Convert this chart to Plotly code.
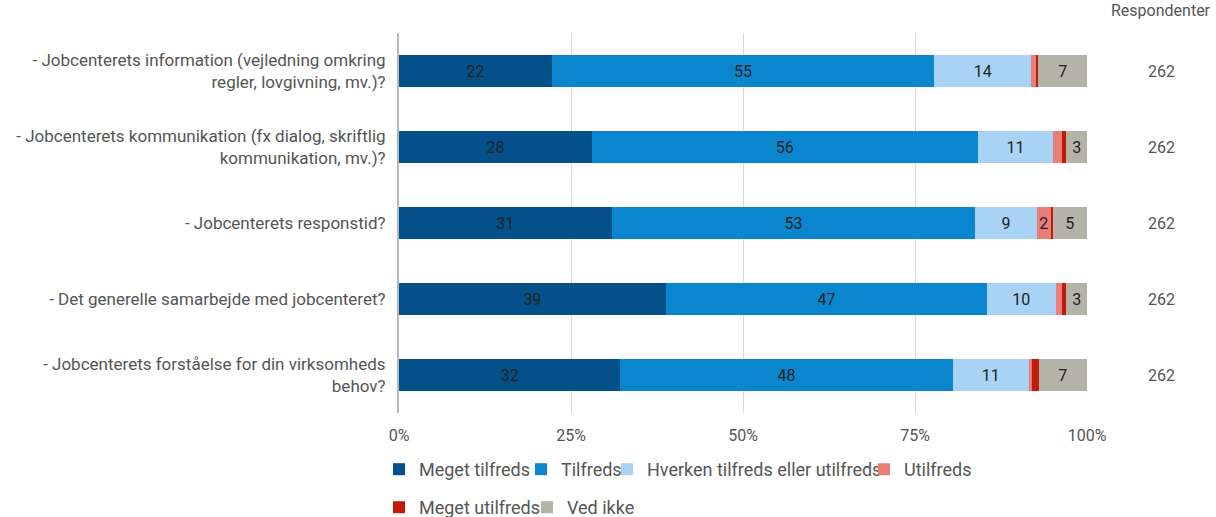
import plotly.graph_objects as go

# Survey questions (top to bottom)
questions = [
    "- Jobcenterets information (vejledning omkring<br>regler, lovgivning, mv.)?",
    "- Jobcenterets kommunikation (fx dialog, skriftlig<br>kommunikation, mv.)?",
    "- Jobcenterets responstid?",
    "- Det generelle samarbejde med jobcenteret?",
    "- Jobcenterets forståelse for din virksomheds<br>behov?",
]
respondents = [262, 262, 262, 262, 262]

# Answer shares (%) per question
meget_tilfreds = [22, 28, 31, 39, 32]
tilfreds = [55, 56, 53, 47, 48]
hverken = [14, 11, 9, 10, 11]
utilfreds = [0.6, 1.2, 2, 0.9, 0.4]
meget_utilfreds = [0.4, 0.7, 0.3, 0.7, 1.0]
ved_ikke = [7, 3, 5, 3, 7]

# name, values, colour, legend id, legend x (paper), legend y (paper)
series = [
    ("Meget tilfreds", meget_tilfreds, "#03508a", "legend", -0.0291, -0.10),
    ("Tilfreds", tilfreds, "#0a86cf", "legend2", 0.1773, -0.10),
    ("Hverken tilfreds eller utilfreds", hverken, "#a9d3f5", "legend3", 0.3023, -0.10),
    ("Utilfreds", utilfreds, "#ea7d77", "legend4", 0.6759, -0.10),
    ("Meget utilfreds", meget_utilfreds, "#c01a0a", "legend5", -0.0291, -0.20),
    ("Ved ikke", ved_ikke, "#b3b3a6", "legend6", 0.1860, -0.20),
]

FONT = "Roboto"
TEXT_COL = "#555555"

fig = go.Figure()
legends = {}
for name, vals, color, leg, lx, ly in series:
    labels = [f"{v:.0f}" if v >= 1.5 else "" for v in vals]
    fig.add_trace(go.Bar(
        y=questions, x=vals, name=name, orientation="h",
        marker=dict(color=color, line=dict(width=0)),
        text=labels, texttemplate="%{text}", textposition="inside",
        insidetextanchor="middle", constraintext="none",
        textfont=dict(family=FONT, size=16, color="#222222"),
        legend=leg, hoverinfo="name+text",
    ))
    legends[leg] = dict(x=lx, y=ly, orientation="h", xanchor="left", yanchor="top",
                        font=dict(family=FONT, size=18, color=TEXT_COL),
                        itemwidth=30, itemclick=False, bgcolor="rgba(0,0,0,0)")

# Respondent counts on the right
fig.add_annotation(text="Respondenter", xref="paper", yref="paper",
                   x=1.1076, xanchor="center", y=1.0, yshift=11, yanchor="bottom",
                   showarrow=False, font=dict(family=FONT, size=16, color=TEXT_COL))
for q, n in zip(questions, respondents):
    fig.add_annotation(text=str(n), xref="paper", yref="y", x=1.1076, xanchor="center",
                       y=q, showarrow=False,
                       font=dict(family=FONT, size=16, color=TEXT_COL))

fig.update_layout(
    width=1216, height=517,
    margin=dict(l=399, r=129, t=33, b=104, autoexpand=False),
    barmode="stack", barnorm="percent", bargap=0.58,
    plot_bgcolor="white", paper_bgcolor="white",
    font=dict(family=FONT, color=TEXT_COL),
    xaxis=dict(range=[0, 100], tickvals=[0, 25, 50, 75, 100],
               ticktext=["0%", "25%", "50%", "75%", "100%"],
               showgrid=True, gridcolor="#d9d9d9", gridwidth=1,
               zeroline=False, showline=False, ticks="",
               ticklabelstandoff=11,
               tickfont=dict(family=FONT, size=16, color=TEXT_COL)),
    yaxis=dict(autorange="reversed", showline=True, linecolor="#b8b8b8",
               linewidth=2, ticks="", ticklabelstandoff=8,
               tickfont=dict(family=FONT, size=17, color=TEXT_COL)),
    showlegend=True,
    **legends,
)

fig.write_html("out.html")
